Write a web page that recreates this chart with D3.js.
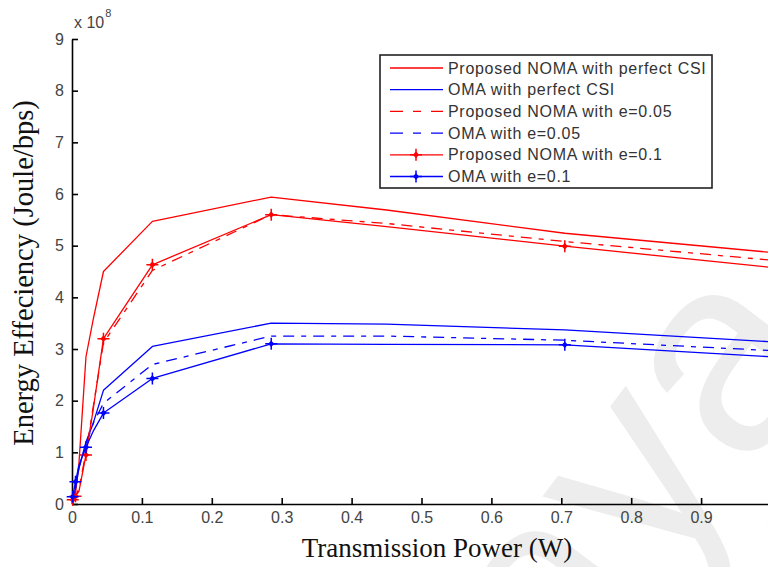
<!DOCTYPE html>
<html>
<head>
<meta charset="utf-8">
<script src="https://cdn.jsdelivr.net/npm/d3@7/dist/d3.min.js"></script>
<style>
  html, body { margin: 0; padding: 0; background: #fff; }
  svg { display: block; }
</style>
</head>
<body>
<svg id="chart" width="768" height="567"></svg>
<script>
// Transmission power samples (W)
const power = [0.001, 0.005, 0.01, 0.02, 0.03, 0.045, 0.115, 0.285, 0.45, 0.705, 1.0];
// indices of the samples that carry a marker
const markerIdx = [0, 1, 3, 5, 6, 7, 9];

// Energy efficiency (x 10^8 Joule/bps)
const nomaPerfect = [0.05, 0.2, 0.8, 2.85, 3.55, 4.5, 5.47, 5.94, 5.69, 5.24, 4.87];
const omaPerfect  = [0.05, 0.3, 0.7, 1.2, 1.55, 2.2, 3.05, 3.5, 3.48, 3.37, 3.14];
const noma005     = [0.08, 0.15, 0.3, 1.0, 1.85, 3.12, 4.52, 5.6, 5.43, 5.08, 4.72];
const oma005      = [0.05, 0.35, 0.7, 1.15, 1.55, 1.95, 2.7, 3.25, 3.25, 3.17, 2.97];
const noma01      = [0.08, 0.15, 0.25, 0.95, 1.8, 3.2, 4.63, 5.6, 5.37, 4.99, 4.58];
const oma01       = [0.14, 0.43, 0.75, 1.1, 1.4, 1.76, 2.43, 3.1, 3.09, 3.08, 2.85];

const seriesNames = [
  "Proposed NOMA with perfect CSI",
  "OMA with perfect CSI",
  "Proposed NOMA with e=0.05",
  "OMA with e=0.05",
  "Proposed NOMA with e=0.1",
  "OMA with e=0.1"
];
const seriesValues = [nomaPerfect, omaPerfect, noma005, oma005, noma01, oma01];
const seriesColors = ["#ff0000", "#0000ff", "#ff0000", "#0000ff", "#ff0000", "#0000ff"];
const seriesDashed = [false, false, true, true, false, false];
const seriesMarker = [false, false, false, false, true, true];

const xTicks = [0, 0.1, 0.2, 0.3, 0.4, 0.5, 0.6, 0.7, 0.8, 0.9, 1];
const yTicks = [0, 1, 2, 3, 4, 5, 6, 7, 8, 9];

const svg = d3.select("#chart");
const x = d3.scaleLinear().domain([0, 1]).range([72, 771]);
const y = d3.scaleLinear().domain([0, 9]).range([504, 39]);

const sans = "'Liberation Sans', Arial, Helvetica, sans-serif";
const serif = "'Liberation Serif', 'Times New Roman', serif";

// faint watermark behind the plot
svg.append("text")
  .attr("transform", "translate(838,350) rotate(-53)")
  .attr("text-anchor", "end")
  .attr("font-family", sans)
  .attr("font-size", 280)
  .attr("fill", "#ededed")
  .text("Malaya");

// axes
const yAxis = d3.axisLeft(y).tickValues(yTicks).tickFormat(d3.format("d"))
  .tickSizeInner(-6).tickSizeOuter(0).tickPadding(8);
const xAxis = d3.axisBottom(x).tickValues(xTicks).tickFormat(d => d === 0 ? "0" : d === 1 ? "1" : d3.format(".1f")(d))
  .tickSizeInner(-6).tickSizeOuter(0).tickPadding(8);

const gy = svg.append("g").attr("transform", "translate(72,0)").call(yAxis);
const gx = svg.append("g").attr("transform", "translate(0,504)").call(xAxis);
[gx, gy].forEach(g => {
  g.select(".domain").attr("stroke", "#000").attr("stroke-width", 1.6);
  g.selectAll(".tick line").attr("stroke", "#000").attr("stroke-width", 1.6);
  g.selectAll(".tick text").attr("font-family", sans).attr("font-size", 16).attr("fill", "#444");
});

// exponent label
const expo = svg.append("text").attr("x", 74).attr("y", 28)
  .attr("font-family", sans).attr("font-size", 16).attr("fill", "#444");
expo.append("tspan").text("x 10");
expo.append("tspan").attr("dy", -11).attr("dx", 1).attr("font-size", 11).text("8");

// axis titles
svg.append("text")
  .attr("x", 437).attr("y", 557)
  .attr("text-anchor", "middle")
  .attr("font-family", serif).attr("font-size", 27).attr("fill", "#111")
  .text("Transmission Power (W)");
svg.append("text")
  .attr("transform", "translate(33,273) rotate(-90)")
  .attr("text-anchor", "middle")
  .attr("font-family", serif).attr("font-size", 28.5).attr("fill", "#111")
  .text("Energy Effeciency (Joule/bps)");

// series lines
const line = d3.line().x((d, i) => x(power[i])).y(d => y(d));
const plot = svg.append("g");

function drawMarker(g, cx, cy, color) {
  g.append("path")
    .attr("d", `M${cx - 6},${cy}H${cx + 6}M${cx},${cy - 6}V${cy + 6}`)
    .attr("stroke", color).attr("stroke-width", 1.5).attr("fill", "none");
  g.append("path")
    .attr("d", `M${cx},${cy - 3.2}L${cx + 3.2},${cy}L${cx},${cy + 3.2}L${cx - 3.2},${cy}Z`)
    .attr("fill", color);
}

seriesValues.forEach((vals, s) => {
  const p = plot.append("path")
    .datum(vals)
    .attr("d", line)
    .attr("fill", "none")
    .attr("stroke", seriesColors[s])
    .attr("stroke-width", 1.3)
    .attr("stroke-linejoin", "round");
  if (seriesDashed[s]) p.attr("stroke-dasharray", "11,7,5,7");
  if (seriesMarker[s]) {
    const mg = plot.append("g");
    markerIdx.forEach(i => drawMarker(mg, x(power[i]), y(vals[i]), seriesColors[s]));
  }
});

// legend
const leg = svg.append("g");
leg.append("rect").attr("x", 380).attr("y", 55).attr("width", 332).attr("height", 133)
  .attr("fill", "#fff").attr("stroke", "#222").attr("stroke-width", 1.6);
seriesNames.forEach((name, s) => {
  const ry = 68 + s * 21.7;
  const l = leg.append("line").attr("x1", 390).attr("x2", 443).attr("y1", ry).attr("y2", ry)
    .attr("stroke", seriesColors[s]).attr("stroke-width", 1.3);
  if (seriesDashed[s]) l.attr("stroke-dasharray", "13,10,8,10");
  if (seriesMarker[s]) drawMarker(leg, 416, ry, seriesColors[s]);
  leg.append("text").attr("x", 448).attr("y", ry + 5.5)
    .attr("font-family", sans).attr("font-size", 16).attr("letter-spacing", 0.7)
    .attr("fill", "#333").text(name);
});
</script>
</body>
</html>
